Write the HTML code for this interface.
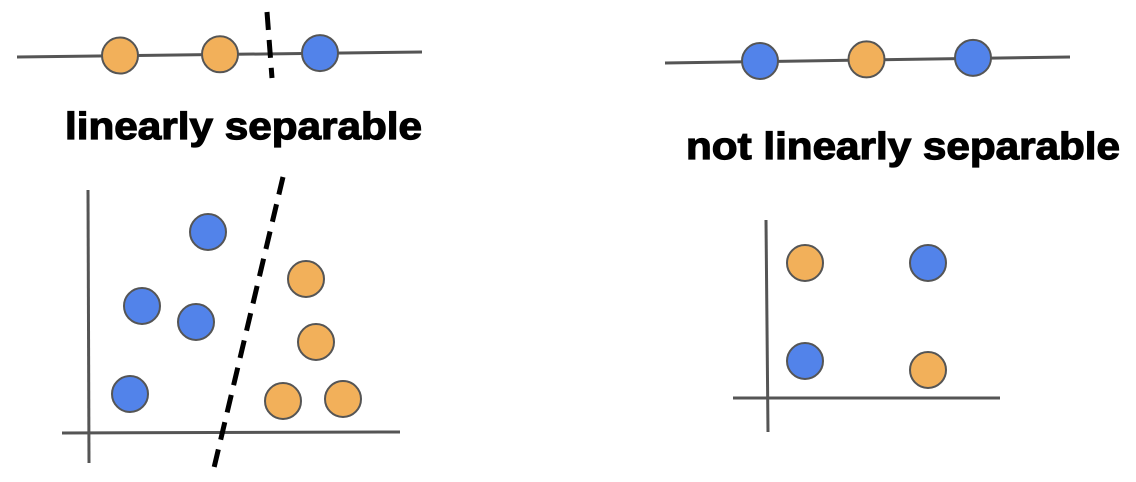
<!DOCTYPE html>
<html><head><meta charset="utf-8"><style>
html,body{margin:0;padding:0;background:#fff;width:1136px;height:482px;overflow:hidden}
svg{display:block}
text{font-family:"Liberation Sans",sans-serif;font-weight:bold;fill:#000;stroke:#000;stroke-width:1.2}
</style></head><body>
<svg id="c" width="1136" height="482">
<text x="65" y="139" font-size="38" textLength="357" lengthAdjust="spacingAndGlyphs">linearly separable</text>
<text x="686" y="159" font-size="38" textLength="434" lengthAdjust="spacingAndGlyphs">not linearly separable</text>
</svg>
<script>
const ORANGE='#F2B05A', BLUE='#5283EA';
const line1Classes=['o','o','b'];
const line2Classes=['b','o','b'];
const scatterAX=[208,142,196,130,306,316,283,343];
const scatterAY=[232,306,322,394,279,342,401,399];
const scatterAC=['b','b','b','b','o','o','o','o'];
const scatterBX=[805,928,805,928];
const scatterBY=[263,263,361,370];
const scatterBC=['o','b','b','o'];
const svg=document.getElementById('c');
const NS='http://www.w3.org/2000/svg';
function ln(x1,y1,x2,y2,name,dash){
  const l=document.createElementNS(NS,'line');
  l.setAttribute('x1',x1);l.setAttribute('y1',y1);l.setAttribute('x2',x2);l.setAttribute('y2',y2);
  l.setAttribute('stroke',dash?'#000':'#555');l.setAttribute('stroke-width',dash?5:3);
  if(dash)l.setAttribute('stroke-dasharray','18 10');
  
  
  svg.appendChild(l);
}
function pt(x,y,c,name){
  const e=document.createElementNS(NS,'circle');
  e.setAttribute('cx',x);e.setAttribute('cy',y);e.setAttribute('r',18);
  e.setAttribute('fill',c==='b'?BLUE:ORANGE);e.setAttribute('stroke','#555');e.setAttribute('stroke-width',2);
  
  
  svg.appendChild(e);
}
ln(17,57,422,52,'number-line-separable');
line1Classes.forEach((c,i)=>{const x=120+i*100;pt(x,56-x*0.0123+1,c,'line1-point');});
ln(267,12,272,78,'separator-1d',true);
ln(665,63,1070,57,'number-line-not-separable');
line2Classes.forEach((c,i)=>{const x=760+i*106.5;pt(x,61-(x-760)*0.0148,c,'line2-point');});
ln(88,190,89,463,'y-axis-a');
ln(62,433,400,432,'x-axis-a');
ln(283,177,213,472,'separator-2d',true);
scatterAX.forEach((x,i)=>pt(x,scatterAY[i],scatterAC[i],'scatter-a-point'));
ln(766,220,768,432,'y-axis-b');
ln(733,398,1000,398,'x-axis-b');
scatterBX.forEach((x,i)=>pt(x,scatterBY[i],scatterBC[i],'scatter-b-point'));
</script>
</body></html>
